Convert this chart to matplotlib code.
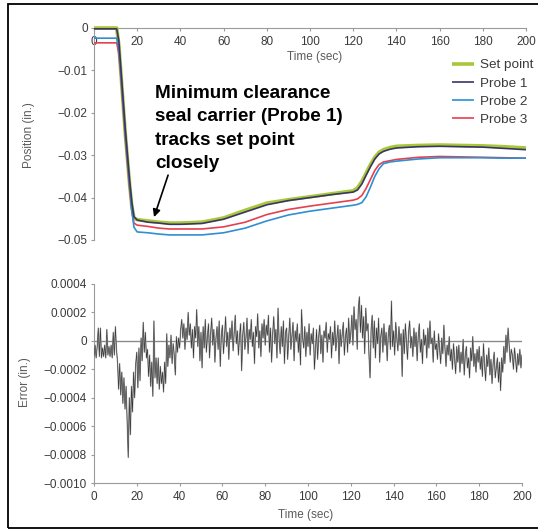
import matplotlib
matplotlib.use("Agg")
import matplotlib.pyplot as plt
import numpy as np
from matplotlib.patches import Rectangle

plt.rcParams['font.family'] = ['Liberation Sans', 'DejaVu Sans']

# ---------------- data ----------------
t_pos = [0, 10.5, 11.5, 12.5, 13.5, 14.5, 15.5, 16.5, 17.5, 18.5, 20, 25, 30, 35, 40, 50, 60,
         70, 80, 90, 100, 110, 120, 122, 124, 126, 128, 130, 132, 134, 137, 140, 150, 160,
         170, 180, 190, 200]
set_point = [0, 0, -0.004, -0.011, -0.018, -0.025, -0.031, -0.037, -0.042, -0.0448, -0.0452,
             -0.0455, -0.0458, -0.046, -0.046, -0.0458, -0.0448, -0.043, -0.0413, -0.0405,
             -0.0398, -0.0391, -0.0384, -0.0377, -0.0362, -0.0342, -0.0322, -0.0305, -0.0293,
             -0.0287, -0.0282, -0.0279, -0.0277, -0.0276, -0.0277, -0.0278, -0.0280, -0.0283]
probe1 = [-0.0002, -0.0002, -0.003, -0.010, -0.017, -0.024, -0.030, -0.036, -0.041, -0.0445,
          -0.0453, -0.0458, -0.046, -0.0463, -0.0463, -0.0461, -0.0451, -0.0434, -0.0417,
          -0.0407, -0.0400, -0.0393, -0.0387, -0.0382, -0.0368, -0.0347, -0.0327, -0.0309,
          -0.0297, -0.0291, -0.0286, -0.0283, -0.0280, -0.0279, -0.0280, -0.0281, -0.0284,
          -0.0287]
probe2 = [-0.0024, -0.0024, -0.005, -0.011, -0.018, -0.025, -0.031, -0.037, -0.043, -0.047,
          -0.0481, -0.0483, -0.0486, -0.0488, -0.0488, -0.0488, -0.0483, -0.0472, -0.0455,
          -0.0441, -0.0432, -0.0425, -0.0418, -0.0416, -0.0412, -0.0398, -0.0375, -0.0350,
          -0.0332, -0.0320, -0.0316, -0.0314, -0.0309, -0.0306, -0.0306, -0.0306, -0.0307,
          -0.0307]
probe3 = [-0.0035, -0.0035, -0.006, -0.012, -0.019, -0.026, -0.032, -0.038, -0.043, -0.046,
          -0.0465, -0.0468, -0.0472, -0.0474, -0.0474, -0.0474, -0.0469, -0.0458, -0.0440,
          -0.0428, -0.0420, -0.0413, -0.0406, -0.0403, -0.0395, -0.0378, -0.0357, -0.0336,
          -0.0322, -0.0316, -0.0313, -0.0310, -0.0305, -0.0303, -0.0304, -0.0305, -0.0306,
          -0.0307]
series_names = ['Set point', 'Probe 1', 'Probe 2', 'Probe 3']

# error signal, every 0.5 s from 0 to 200 s, in units of 1e-4 in.
err_step = 0.5
err_e4 = [
    -1.1, -0.3, -1.2, -0.4, 0.9, -1.1, 0.9, -1.2, -0.5, -1.1, -0.3, -1.2, 0.8, -1.0, -0.4, -1.1, -0.3, -1.2, 0.6, -1.0,
    1.0, -0.6, -1.5, -3.4, -1.6, -3.8, -2.2, -4.4, -2.6, -4.8, -3.2, -5.6, -8.2, -4.0, -6.6, -3.2, -5.0, -2.2, -4.0, -1.6,
    -0.8, -3.3, -0.5, -2.8, 0.2, -1.4, 1.3, -0.8, 0.6, -1.2, -0.6, -2.5, -1.0, -3.2, -1.5, -3.9, 1.4, -2.6, -1.2, -3.0,
    -1.2, -3.4, -1.8, -3.0, -2.2, -3.6, -1.5, -3.0, 0.5, -1.8, -0.3, -1.2, 0.4, -1.6, -0.2, -1.0, -2.4, 0.3, -0.8, 0.2,
    -0.5, 0.8, 1.5, 0.2, 1.2, -0.6, 0.9, 0.1, 2.0, 0.4, 1.2, -0.5, 0.8, -1.2, 1.0, 0.2, 2.2, -0.4, 1.0, -1.4,
    0.6, -1.9, 1.0, -0.5, 1.5, -0.8, 0.3, 1.2, -1.2, 0.5, 1.6, -0.3, 0.8, -1.5, 0.2, 1.0, -0.6, 1.4, -1.8, 0.4,
    1.1, -0.9, 0.3, 1.7, -0.4, 0.6, -1.3, 0.9, 0.1, 1.4, -0.7, 0.5, 1.8, -0.2, 0.7, -1.0, 0.3, 1.2, -2.1, 0.4,
    1.3, -0.6, 0.2, 1.6, -0.9, 0.8, 0.1, 1.5, -0.4, 0.6, -1.6, 1.0, 0.3, 1.9, -0.5, 0.7, -1.1, 1.2, 0.2, 1.5,
    -0.3, 1.1, 0.4, 1.8, -0.8, 0.9, -1.5, 0.5, 1.7, -0.2, 0.8, -1.2, 2.3, 0.1, -0.9, 1.0, -0.4, 1.4, -1.6, 0.6,
    0.9, -1.3, 0.3, 1.6, -0.6, 0.4, 1.3, -1.4, 0.7, 0.0, 1.2, -0.8, 0.5, -1.7, 2.2, 0.2, -0.5, 1.0, -1.1, 0.6,
    -0.4, 1.2, -1.0, 0.5, -0.2, 0.9, -2.0, -0.6, 0.8, -1.3, 0.3, 1.1, -0.9, 0.4, -1.5, 0.7, 0.2, 1.3, -0.8, 0.5,
    0.1, 1.0, -1.2, 0.6, -0.3, 1.4, -0.7, 0.2, 1.1, -1.6, 0.8, -0.4, 0.5, 1.3, -1.0, 0.3, 0.9, -0.8, 1.6, -0.2,
    0.5, 1.8, -0.3, 2.4, 0.8, 1.5, -0.6, 2.2, 3.1, 0.6, 2.5, 0.2, 1.7, -0.9, 2.3, 0.7, 1.2, -1.0, -2.6, 0.8,
    1.8, -0.5, 1.4, -1.2, 0.9, -0.2, 1.6, -1.5, 0.3, 0.9, -0.8, 1.2, -0.3, 0.6, -1.4, 0.4, 1.1, -0.6, 2.8, -0.4,
    0.7, -1.0, 1.3, 0.2, -0.7, 1.0, -0.3, 0.5, -2.5, 0.8, -0.9, 1.2, 0.0, -1.3, 0.6, 1.4, -0.5, 0.3, -1.1, 0.9,
    -0.4, 0.6, -1.4, 0.3, 1.2, -0.8, 0.1, -1.6, 0.8, -0.3, 0.4, -1.2, 0.9, -0.5, 1.4, -0.2, 0.2, -1.5, 0.7, -0.6,
    -0.2, -1.3, 0.5, -0.6, -1.6, 0.2, -0.9, 1.1, -0.5, -1.8, -0.3, -1.0, 0.3, -1.4, -0.6, -2.0, -0.2, -1.2, -2.3, -0.4,
    -1.5, -0.3, -2.2, -0.8, -1.6, 0.1, -2.4, -1.0, -0.4, -1.9, -1.2, -2.6, -0.5, -1.4, 0.3, -1.8, -0.9, -2.2, -0.6, -1.5,
    -0.4, -2.0, -1.1, -2.5, -0.2, -1.7, -2.8, -1.0, -1.8, -0.5, -2.4, -1.3, -3.0, -1.6, -0.8, -2.6, -1.9, -1.2, -2.9, -1.5,
    -3.5, -1.2, -2.2, -0.4, -1.6, 0.4, -0.8, 0.9, -0.3, -1.5, -0.6, -1.0, -2.0, -0.5, -1.3, -2.2, -0.9, -1.7, -0.6, -1.9,
    -1.0,
]

x_ticks = [0, 20, 40, 60, 80, 100, 120, 140, 160, 180, 200]
pos_ticks = [0, -0.01, -0.02, -0.03, -0.04, -0.05]
pos_ticklabels = ['0', '\u22120.01', '\u22120.02', '\u22120.03', '\u22120.04', '\u22120.05']
err_ticks = [0.0004, 0.0002, 0, -0.0002, -0.0004, -0.0006, -0.0008, -0.0010]
err_ticklabels = ['0.0004', '0.0002', '0', '\u22120.0002', '\u22120.0004', '\u22120.0006',
                  '\u22120.0008', '\u22120.0010']

# ---------------- styling ----------------
W, H = 538, 529
fig = plt.figure(figsize=(W / 100, H / 100), dpi=100)
fig.patch.set_facecolor('white')

colors = ['#a8c83a', '#3b3566', '#2f8fd2', '#e6404e']
widths = [2.6, 1.2, 1.2, 1.2]
spine_c = '#9a9a9a'
tick_c = '#3a3a3a'
label_c = '#5a5a5a'
fs = 8.5


def fx(px):
    return px / W


def fy(py):
    return 1 - py / H


# top axes
ax1 = fig.add_axes([fx(94), fy(240), fx(526) - fx(94), fy(28) - fy(240)])
ax1.set_xlim(0, 200)
ax1.set_ylim(-0.05, 0)
order = [0, 3, 2, 1]
all_series = [set_point, probe1, probe2, probe3]
lines = {}
for i in order:
    ln, = ax1.plot(t_pos, all_series[i], color=colors[i], lw=widths[i], clip_on=False,
                   solid_capstyle='butt', zorder=3 + (i == 1))
    lines[i] = ln
for s in ['top', 'right']:
    ax1.spines[s].set_visible(False)
ax1.spines['bottom'].set_position(('axes', 1.0))
ax1.spines['bottom'].set_color(spine_c)
ax1.spines['left'].set_color(spine_c)
ax1.spines['left'].set_bounds(-0.05, 0)
ax1.set_xticks(x_ticks)
ax1.set_xticklabels([str(v) for v in x_ticks])
ax1.set_yticks(pos_ticks)
ax1.set_yticklabels(pos_ticklabels)
ax1.tick_params(axis='both', colors=spine_c, labelcolor=tick_c, labelsize=fs, length=2.5, width=0.8)
ax1.tick_params(axis='x', pad=3.5)
ax1.tick_params(axis='y', pad=2)
ax1.patch.set_alpha(0)

# legend
handles = [lines[i] for i in range(4)]
leg = fig.legend(handles, series_names, loc='upper left',
                 bbox_to_anchor=(fx(452), fy(59)), frameon=False, fontsize=9.7,
                 handlelength=1.65, handletextpad=0.4, labelspacing=0.42,
                 borderpad=0, borderaxespad=0)
for txt in leg.get_texts():
    txt.set_color(tick_c)

# annotation
ax1.annotate('', xy=(27.8, -0.0446), xytext=(34.3, -0.0347),
             arrowprops=dict(arrowstyle='-|>', color='black', lw=1.2,
                             mutation_scale=11, shrinkA=0, shrinkB=0))
fig.text(fx(155), fy(85), 'Minimum clearance\nseal carrier (Probe 1)\ntracks set point\nclosely',
         fontsize=13.6, fontweight='bold', color='black', va='top', ha='left', linespacing=1.49)

fig.text(fx(315), fy(57), 'Time (sec)', fontsize=fs, color=label_c, ha='center', va='center')
fig.text(fx(29), fy(135), 'Position (in.)', fontsize=fs, color=label_c, ha='center', va='center',
         rotation=90)

# bottom axes
ax2 = fig.add_axes([fx(94), fy(483), fx(522) - fx(94), fy(284) - fy(483)])
ax2.set_xlim(0, 200)
ax2.set_ylim(-0.0010, 0.0004)
t_err = np.arange(len(err_e4)) * err_step
err = np.array(err_e4) * 1e-4
ax2.axhline(0, color='#8a8a8a', lw=1.0, zorder=1)
ax2.plot(t_err, err, color='#a8a8a8', lw=1.0, zorder=2)
ax2.plot(t_err, err, color='#333333', lw=0.4, zorder=3)
for s in ['top', 'right']:
    ax2.spines[s].set_visible(False)
ax2.spines['bottom'].set_color(spine_c)
ax2.spines['left'].set_color(spine_c)
ax2.set_xticks(x_ticks)
ax2.set_xticklabels([str(v) for v in x_ticks])
ax2.set_yticks(err_ticks)
ax2.set_yticklabels(err_ticklabels)
ax2.tick_params(axis='both', colors=spine_c, labelcolor=tick_c, labelsize=fs, length=2.5, width=0.8)
ax2.tick_params(axis='x', pad=3.5)
ax2.tick_params(axis='y', pad=2.5)
ax2.patch.set_alpha(0)

fig.text(fx(306), fy(515), 'Time (sec)', fontsize=fs, color=label_c, ha='center', va='center')
fig.text(fx(25), fy(382), 'Error (in.)', fontsize=fs, color=label_c, ha='center', va='center',
         rotation=90)

# outer frame
fig.patches.append(Rectangle((fx(8), fy(528)), 1.2, fy(4) - fy(528), transform=fig.transFigure,
                             fill=False, edgecolor='black', lw=1.3, figure=fig))

fig.savefig('out.png', dpi=100)
